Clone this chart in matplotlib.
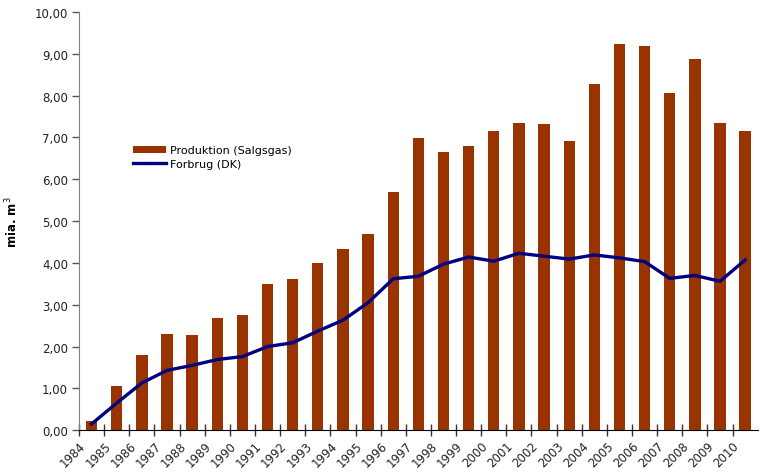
import matplotlib.pyplot as plt
import numpy as np

years = list(range(1984, 2011))
produktion = [0.22, 1.05, 1.80, 2.30, 2.28, 2.68, 2.75, 3.50, 3.62, 4.00,
              4.34, 4.70, 5.70, 6.98, 6.65, 6.79, 7.15, 7.34, 7.32, 6.91,
              8.28, 9.23, 9.19, 8.06, 8.88, 7.34, 7.15]
forbrug = [0.15, 0.65, 1.13, 1.43, 1.55, 1.69, 1.76, 2.00, 2.09, 2.37,
           2.63, 3.05, 3.62, 3.68, 3.97, 4.14, 4.04, 4.23, 4.16, 4.09,
           4.19, 4.12, 4.03, 3.63, 3.70, 3.56, 4.07]

plt.rcParams['font.family'] = ['DejaVu Sans']

fig = plt.figure(figsize=(7.6, 4.77), dpi=100)
ax = fig.add_axes([0.104, 0.096, 0.893, 0.877])

x = np.arange(len(years)) + 0.5
bars = ax.bar(x, produktion, width=0.45, color='#993300', label='Produktion (Salgsgas)', zorder=2)
line, = ax.plot(x, forbrug, color='#000080', lw=2.4, label='Forbrug (DK)', zorder=3)

ax.set_xlim(0, len(years))
ax.set_ylim(0, 10)
ax.set_yticks(np.arange(0, 11, 1))
ax.yaxis.set_major_formatter(plt.FuncFormatter(lambda v, p: ('%.2f' % v).replace('.', ',')))
ax.set_xticks(np.arange(len(years)))
ax.set_xticklabels([str(y) for y in years], rotation=45, ha='right', rotation_mode='anchor',
                   fontsize=8.5, color='#222222')
for t in ax.get_yticklabels():
    t.set_fontsize(8.5)
    t.set_color('#222222')

ax.tick_params(axis='y', direction='out', length=5, width=1, color='#555555', pad=3,
               labelsize=8.5, labelcolor='#222222')
ax.tick_params(axis='x', direction='inout', length=8, width=1, color='#333333', pad=2)

ax.spines['top'].set_visible(False)
ax.spines['right'].set_visible(False)
ax.spines['left'].set_color('#808080')
ax.spines['bottom'].set_color('black')

ax.set_ylabel('mia. m$^3$', fontsize=8.5, fontweight='bold', labelpad=10)

ax.legend([bars, line], ['Produktion (Salgsgas)', 'Forbrug (DK)'],
          loc='upper left', bbox_to_anchor=(0.065, 0.705), frameon=False, fontsize=8,
          handlelength=3.0, handleheight=0.6, labelspacing=0.3, handletextpad=0.3)

fig.savefig('out.png', dpi=100)
